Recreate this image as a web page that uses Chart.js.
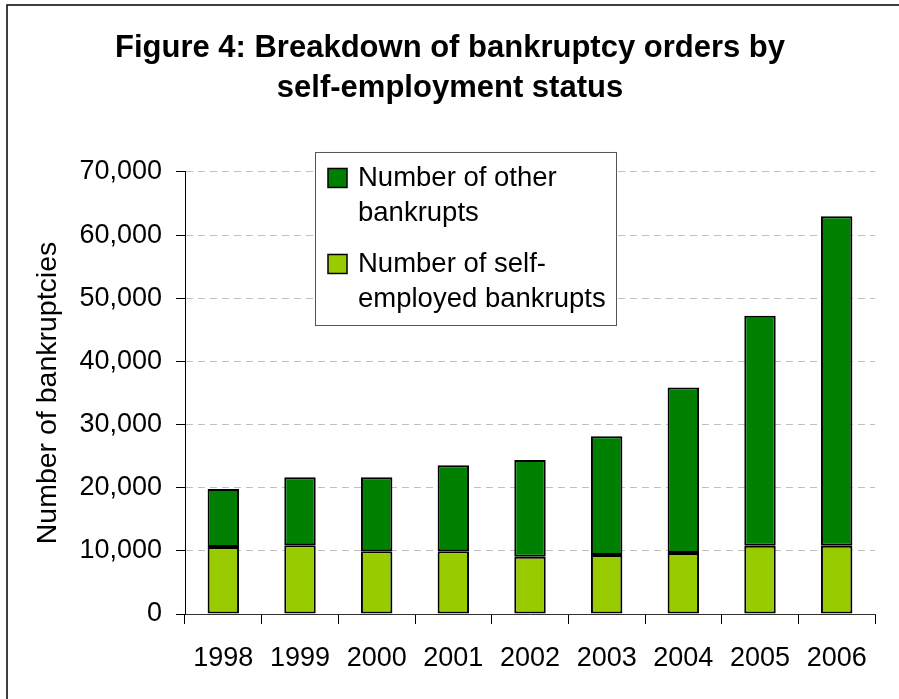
<!DOCTYPE html>
<html>
<head>
<meta charset="utf-8">
<title>Bankruptcy orders by self-employment status</title>
<script src="https://cdn.jsdelivr.net/npm/chart.js@4.4.1/dist/chart.umd.min.js"></script>
<style>
  html, body { margin: 0; padding: 0; background: #fff; }
  #wrap { width: 899px; height: 699px; position: relative; }
</style>
</head>
<body>
<div id="wrap"><canvas id="chart"></canvas></div>
<script>
// Bankruptcy orders, split by self-employment status
const years = ['1998', '1999', '2000', '2001', '2002', '2003', '2004', '2005', '2006'];
const selfEmployed = [10600, 10900, 9950, 9950, 9050, 9350, 9650, 10800, 10800];
const otherBankrupts = [9200, 10750, 11700, 13600, 15350, 18800, 26200, 36450, 52200];
const yTicks = [0, 10000, 20000, 30000, 40000, 50000, 60000, 70000];

const FONT = "'Liberation Sans', Arial, sans-serif";

// white page with a frame line on the top and left
const framePlugin = {
  id: 'frame',
  beforeDraw(chart) {
    const ctx = chart.ctx;
    ctx.save();
    ctx.fillStyle = '#fff';
    ctx.fillRect(0, 0, chart.width, chart.height);
    ctx.restore();
  },
  afterDraw(chart) {
    const ctx = chart.ctx;
    ctx.save();
    ctx.strokeStyle = '#000';
    ctx.lineWidth = 1.5;
    ctx.beginPath();
    ctx.moveTo(7, chart.height);
    ctx.lineTo(7, 5);
    ctx.lineTo(chart.width, 5);
    ctx.stroke();
    ctx.restore();
  }
};

// boxed legend inside the plot, top series first, wrapped labels
const boxLegend = {
  id: 'boxLegend',
  afterDraw(chart) {
    const ctx = chart.ctx;
    const area = chart.chartArea;
    const x = area.left + 130, y = area.top - 20, w = 301, h = 173;
    ctx.save();
    ctx.fillStyle = '#fff';
    ctx.fillRect(x, y, w, h);
    ctx.strokeStyle = '#555';
    ctx.lineWidth = 1;
    ctx.strokeRect(x + 0.5, y + 0.5, w, h);

    ctx.font = '27.5px ' + FONT;
    ctx.fillStyle = '#000';
    ctx.textBaseline = 'middle';
    const items = chart.data.datasets.slice().reverse();
    items.forEach((ds, i) => {
      const cy = y + 26 + i * 86;
      ctx.fillStyle = ds.backgroundColor;
      ctx.fillRect(x + 13, cy - 9.5, 19, 19);
      ctx.strokeStyle = '#000';
      ctx.lineWidth = 1.5;
      ctx.strokeRect(x + 13, cy - 9.5, 19, 19);
      ctx.fillStyle = '#000';
      ds.legendLines.forEach((line, j) => {
        ctx.fillText(line, x + 43, cy + j * 35);
      });
    });
    ctx.restore();
  }
};

new Chart(document.getElementById('chart'), {
  type: 'bar',
  data: {
    labels: years,
    datasets: [
      {
        label: 'Number of self-employed bankrupts',
        legendLines: ['Number of self-', 'employed bankrupts'],
        data: selfEmployed,
        backgroundColor: '#99CC00',
        borderColor: '#000',
        borderWidth: 2,
        borderSkipped: false
      },
      {
        label: 'Number of other bankrupts',
        legendLines: ['Number of other', 'bankrupts'],
        data: otherBankrupts,
        backgroundColor: '#008000',
        borderColor: '#000',
        borderWidth: 2,
        borderSkipped: false
      }
    ]
  },
  options: {
    responsive: true,
    maintainAspectRatio: false,
    animation: false,
    devicePixelRatio: 1,
    layout: { padding: { left: 25, right: 24, top: 0, bottom: 25 } },
    datasets: {
      bar: { barPercentage: 0.41, categoryPercentage: 1 }
    },
    plugins: {
      legend: { display: false },
      tooltip: { enabled: false },
      title: {
        display: true,
        text: ['Figure 4: Breakdown of bankruptcy orders by', 'self-employment status'],
        color: '#000',
        font: { family: FONT, size: 31, weight: 'bold', lineHeight: 1.29 },
        padding: { top: 28, bottom: 64 }
      }
    },
    scales: {
      x: {
        stacked: true,
        afterFit(scale) { scale.height = 60; },
        grid: {
          drawOnChartArea: false,
          drawTicks: true,
          tickLength: 10,
          tickColor: '#000',
          tickWidth: 1
        },
        border: { color: '#333', width: 1 },
        ticks: {
          color: '#000',
          padding: 18,
          font: { family: FONT, size: 27 }
        }
      },
      y: {
        stacked: true,
        min: 0,
        max: 70000,
        afterFit(scale) { scale.width = 160; },
        afterBuildTicks(scale) {
          scale.ticks = yTicks.map(v => ({ value: v }));
        },
        grid: {
          color: ctx => (ctx.tick && ctx.tick.value === 0 ? 'rgba(0,0,0,0)' : '#c0c0c0'),
          lineWidth: 1,
          drawTicks: true,
          tickLength: 9,
          tickColor: '#000',
          tickWidth: 1,
          tickBorderDash: []
        },
        border: { color: '#000', width: 1, dash: [7, 5] },
        ticks: {
          color: '#000',
          padding: 14,
          font: { family: FONT, size: 27 },
          callback: v => v.toLocaleString('en-US')
        },
        title: {
          display: true,
          text: 'Number of bankruptcies',
          color: '#000',
          font: { family: FONT, size: 28.5 },
          padding: { top: 6, bottom: 0 }
        }
      }
    }
  },
  plugins: [framePlugin, boxLegend]
});
</script>
</body>
</html>
